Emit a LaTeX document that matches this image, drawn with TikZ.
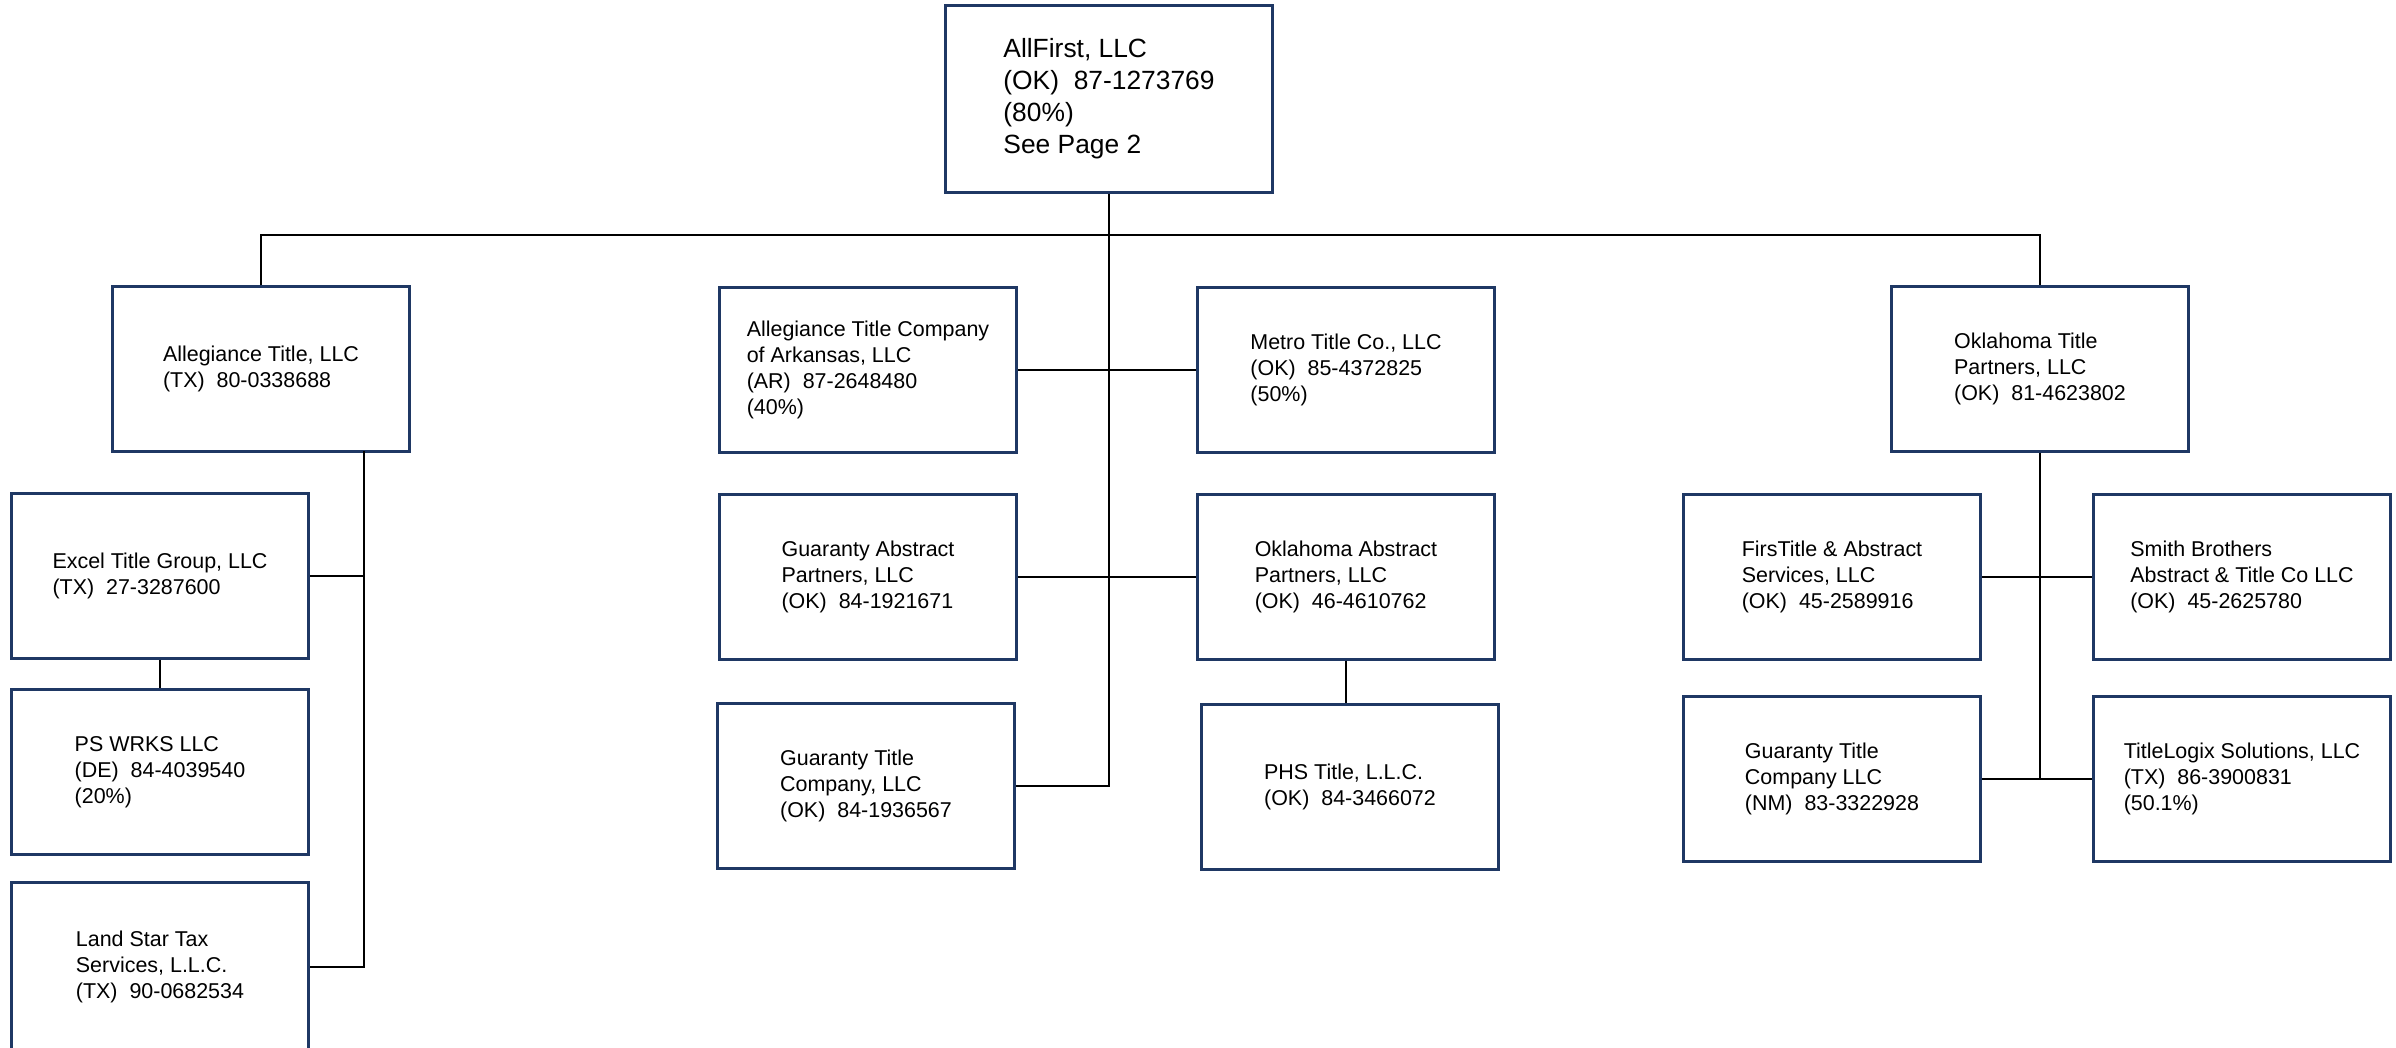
\documentclass[tikz,border=0pt]{standalone}
\usepackage{fontspec}
\setmainfont{Liberation Sans}
\usetikzlibrary{positioning}
\definecolor{boxblue}{RGB}{31,56,100}

\begin{document}
\begin{tikzpicture}[x=0.01cm,y=-0.01cm,
    entity/.style={draw=boxblue,line width=0.85pt,align=left,
        minimum width=2.97cm,minimum height=1.64cm,inner sep=0pt,
        font=\fontsize{6.1}{7.4}\selectfont},
    link/.style={line width=0.6pt}
]
    \useasboundingbox (0,0) rectangle (2396,1047);
    % top of the tree
    \node[entity,minimum width=3.26cm,minimum height=1.86cm,
        font=\fontsize{7.5}{9.1}\selectfont](allfirst) at (1109,99)
        {AllFirst, LLC\\(OK)\ \ 87-1273769\\(80\%)\\See Page 2};
    \coordinate (bar) at (1110,235);
    % left branch
    \node[entity](allegiance) at (261,369) {Allegiance Title, LLC\\(TX)\ \ 80-0338688};
    \node[entity](excel) at (160,576) {Excel Title Group, LLC\\(TX)\ \ 27-3287600};
    \node[entity](pswrks) at (160,772) {PS WRKS LLC\\(DE)\ \ 84-4039540\\(20\%)};
    \node[entity,minimum height=1.68cm](landstar) at (160,967)
        {Land Star Tax\\Services, L.L.C.\\(TX)\ \ 90-0682534};
    \coordinate (aspine) at (364,451);
    % middle branch
    \node[entity](arkansas) at (868,370)
        {Allegiance Title Company\\of Arkansas, LLC\\(AR)\ \ 87-2648480\\(40\%)};
    \node[entity](metro) at (1346,370) {Metro Title Co., LLC\\(OK)\ \ 85-4372825\\(50\%)};
    \node[entity](gabstract) at (868,577)
        {Guaranty Abstract\\Partners, LLC\\(OK)\ \ 84-1921671};
    \node[entity](okabstract) at (1346,577)
        {Oklahoma Abstract\\Partners, LLC\\(OK)\ \ 46-4610762};
    \node[entity](gtitle) at (866,786)
        {Guaranty Title\\Company, LLC\\(OK)\ \ 84-1936567};
    \node[entity](phs) at (1350,787) {PHS Title, L.L.C.\\(OK)\ \ 84-3466072};
    % right branch
    \node[entity](oktitle) at (2040,369)
        {Oklahoma Title\\Partners, LLC\\(OK)\ \ 81-4623802};
    \node[entity](firstitle) at (1832,577)
        {FirsTitle \& Abstract\\Services, LLC\\(OK)\ \ 45-2589916};
    \node[entity](smith) at (2242,577)
        {Smith Brothers\\Abstract \& Title Co LLC\\(OK)\ \ 45-2625780};
    \node[entity](gtitlenm) at (1832,779)
        {Guaranty Title\\Company LLC\\(NM)\ \ 83-3322928};
    \node[entity](titlelogix) at (2242,779)
        {TitleLogix Solutions, LLC\\(TX)\ \ 86-3900831\\(50.1\%)};

    \draw[link](allfirst.south)--(allfirst.south |- gtitle.east)--(gtitle.east);
    \draw[link](allegiance.north)|-(bar)-|(oktitle.north);
    \draw[link](aspine)|-(landstar.east);
    \draw[link](excel.east)--(excel.east -| aspine);
    \draw[link](excel.south)--(pswrks.north);
    \draw[link](arkansas.east)--(metro.west);
    \draw[link](gabstract.east)--(okabstract.west);
    \draw[link](okabstract.south)--(okabstract.south |- phs.north);
    \draw[link](oktitle.south)--(oktitle.south |- gtitlenm.east);
    \draw[link](firstitle.east)--(smith.west);
    \draw[link](gtitlenm.east)--(titlelogix.west);
\end{tikzpicture}
\end{document}
